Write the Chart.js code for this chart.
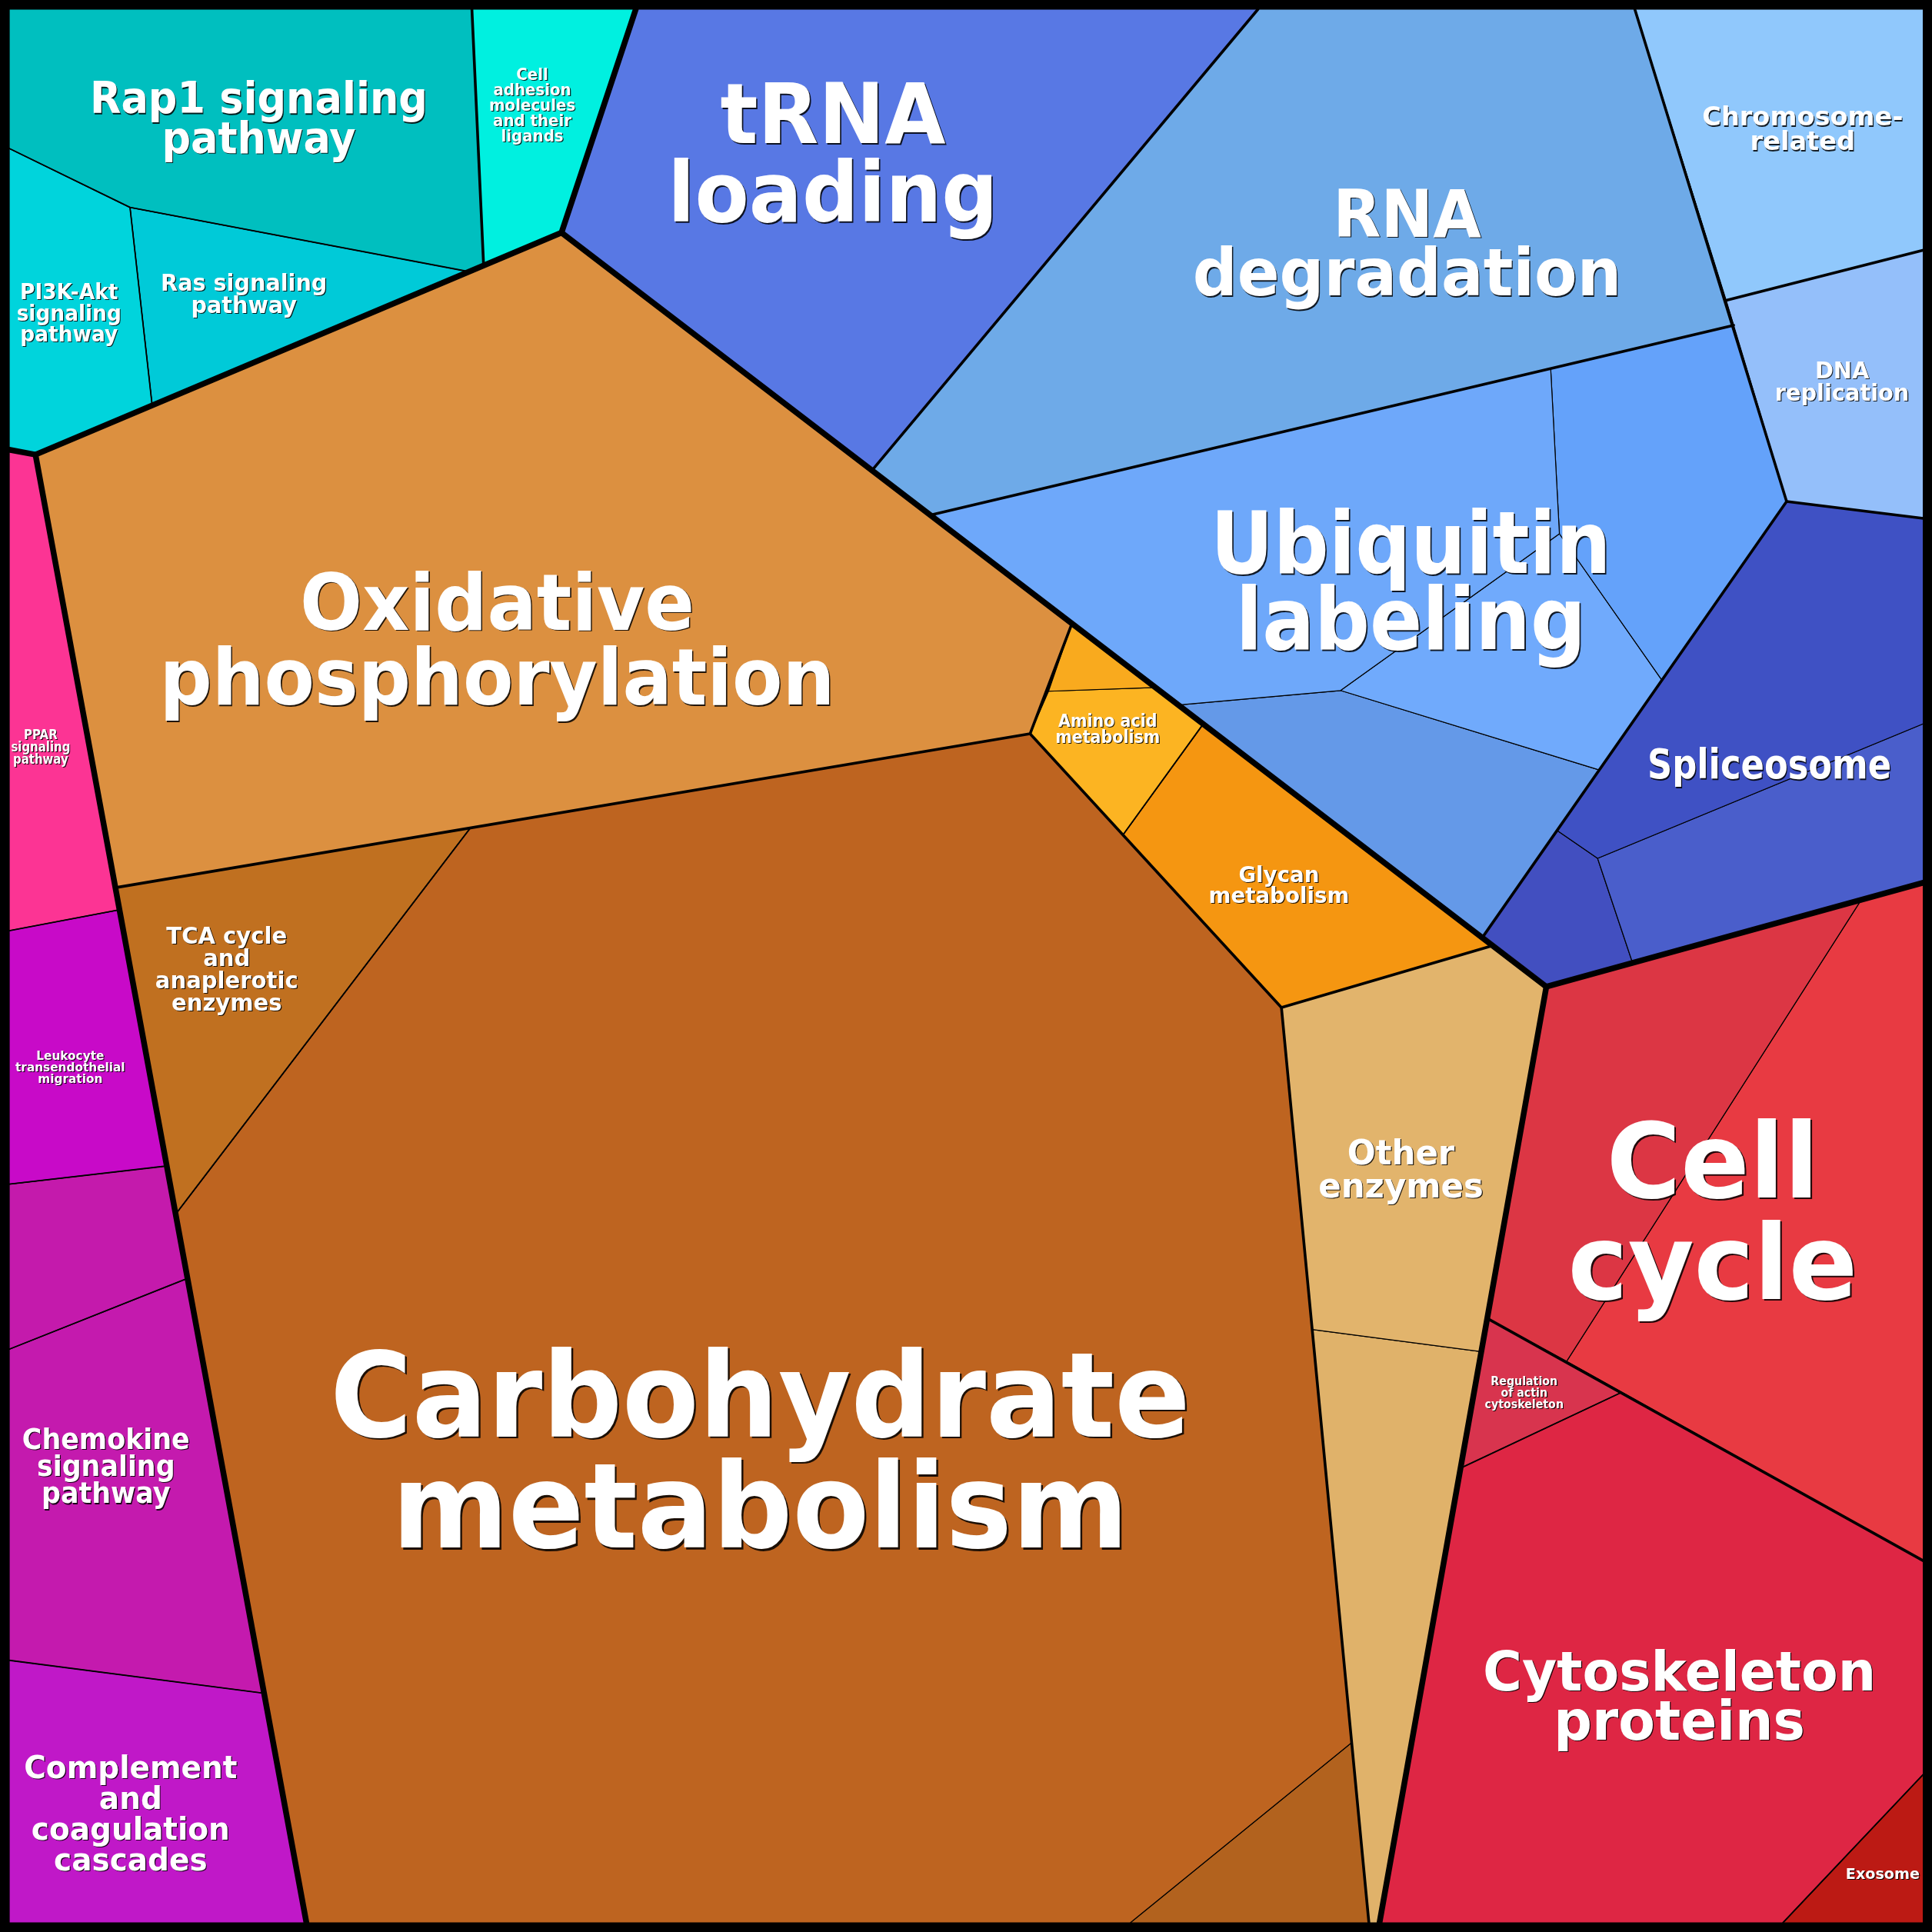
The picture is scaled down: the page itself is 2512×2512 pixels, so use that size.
<!DOCTYPE html>
<html>
<head>
<meta charset="utf-8">
<style>
html,body{margin:0;padding:0;background:#000;}
#wrap{width:2512px;height:2512px;}
canvas{display:block;}
</style>
<script src="https://cdn.jsdelivr.net/npm/chart.js@4.4.1/dist/chart.umd.min.js"></script>
</head>
<body>
<div id="wrap"><canvas id="c" width="2512" height="2512"></canvas></div>
<script>
// ---- treemap coordinate span (data units) ----
const SPAN = 1568;

// ---- cells (Voronoi treemap) ----
const cellNames = [
  "Rap1 signaling pathway", "Cell adhesion molecules and their ligands", "PI3K-Akt signaling pathway", "Ras signaling pathway",
  "tRNA loading", "RNA degradation", "Chromosome-related", "DNA replication",
  "Ubiquitin labeling", "Ubiquitin labeling (2)", "Ubiquitin labeling (3)", "Ubiquitin labeling (4)",
  "Spliceosome", "Spliceosome (2)", "Spliceosome (3)",
  "Oxidative phosphorylation", "TCA cycle and anaplerotic enzymes", "Carbohydrate metabolism", "Carbohydrate metabolism (2)",
  "Amino acid metabolism (2)", "Amino acid metabolism", "Glycan metabolism", "Other enzymes", "Other enzymes (2)",
  "PPAR signaling pathway", "Leukocyte transendothelial migration", "Signaling (other)", "Chemokine signaling pathway", "Complement and coagulation cascades",
  "Cell cycle (2)", "Cell cycle", "Regulation of actin cytoskeleton", "Cytoskeleton proteins", "Exosome"
];

const cellPolygons = [
  [[7.5,7.5],[383,7.5],[392.5,215.5],[380.7,220.5],[105.5,168.3],[7.5,120.5]],
  [[383,7.5],[516,7.5],[455.7,188.8],[392.5,215.5]],
  [[7.5,120.5],[105.5,168.3],[123.5,329],[28.8,369],[7.5,365]],
  [[105.5,168.3],[380.7,220.5],[123.5,329]],
  [[516,7.5],[1021,7.5],[707.7,381.8],[455.7,188.8]],
  [[1021,7.5],[1326.8,7.5],[1407,264],[755,418],[707.7,381.8]],
  [[1326.8,7.5],[1561,7.5],[1561,203],[1401,243.8]],
  [[1401,243.8],[1561,203],[1561,420.7],[1450,407]],
  [[755,418],[1258.5,299],[1265.6,433.2],[1088,560.4],[956.3,572.1]],
  [[1258.5,299],[1407,264],[1450,407],[1348.8,552],[1265.6,433.2]],
  [[1265.6,433.2],[1348.8,552],[1298,624.9],[1088,560.4]],
  [[956.3,572.1],[1088,560.4],[1298,624.9],[1203,761]],
  [[1450,407],[1561,420.7],[1561,587.4],[1296.6,696.6],[1263.7,674]],
  [[1296.6,696.6],[1561,587.4],[1561,716.3],[1325,781.5]],
  [[1263.7,674],[1296.6,696.6],[1325,781.5],[1255,800.8],[1203,761]],
  [[28.8,369],[455.7,188.8],[870,506],[836,595.5],[93.7,720.4]],
  [[93.7,720.4],[381.8,671.9],[142.6,985.4]],
  [[381.8,671.9],[836,595.5],[911.4,677.6],[1040,817.7],[1097,1414.3],[917.3,1560.5],[248.7,1560.5],[142.6,985.4]],
  [[917.3,1560.5],[1097,1414.3],[1111,1560.5]],
  [[870,506],[938,558],[851,561]],
  [[851,561],[938,558],[976.5,587.6],[911.4,677.6],[836,595.5]],
  [[976.5,587.6],[1211.4,767.4],[1040,817.7],[911.4,677.6]],
  [[1040,817.7],[1211.4,767.4],[1255,800.8],[1202,1097],[1065,1079]],
  [[1065,1079],[1202,1097],[1119.6,1560.5],[1111,1560.5]],
  [[7.5,365],[28.8,369],[97,738.3],[7.5,755.3]],
  [[7.5,755.3],[97,738.3],[135.4,946.3],[7.5,961]],
  [[7.5,961],[135.4,946.3],[152.2,1037.5],[7.5,1095]],
  [[7.5,1095],[152.2,1037.5],[214.4,1374.2],[7.5,1347.5]],
  [[7.5,1347.5],[214.4,1374.2],[248.7,1560.5],[7.5,1560.5]],
  [[1255,800.8],[1510.6,730.2],[1271.5,1104.8],[1207,1070]],
  [[1510.6,730.2],[1561,716.3],[1561,1266.7],[1271.5,1104.8]],
  [[1207,1070],[1315.5,1130.3],[1185.4,1191.5]],
  [[1185.4,1191.5],[1315.5,1130.3],[1561,1266.7],[1561,1440],[1447,1560.5],[1119.6,1560.5]],
  [[1447,1560.5],[1561,1440],[1561,1560.5]]
];

const cellColors = [
  "#00bfbf", "#00f0e0", "#00d4dc", "#00cad8",
  "#5878e4", "#6eaae8", "#90c8fc", "#94bffa",
  "#6ea8fa", "#64a2fa", "#70aafc", "#6499e8",
  "#3f51c4", "#4a5ecb", "#424fc0",
  "#dc9040", "#c07020", "#be6420", "#b2621e",
  "#f9aa1e", "#fcb422", "#f59611", "#e2b46c", "#e0b26a",
  "#fc3494", "#c80ac8", "#c41aac", "#c41aae", "#c018c8",
  "#dc3644", "#e83a42", "#d8344e", "#de2644", "#bc1a14"
];

// ---- group borders (polylines through cell vertices) ----
const thickBorders = [
  [[7.5,365],[28.8,369],[455.7,188.8],[516,7.5]],
  [[28.8,369],[248.7,1560.5]],
  [[455.7,188.8],[1255,800.8],[1561,716.3]],
  [[1255,800.8],[1119.6,1560.5]]
];
const mediumBorders = [
  [[707.7,381.8],[1021,7.5]],
  [[755,418],[1407,264]],
  [[1326.8,7.5],[1450,407],[1203,761]],
  [[1450,407],[1561,420.7]],
  [[1401,243.8],[1561,203]],
  [[93.7,720.4],[836,595.5],[870,506]],
  [[836,595.5],[1040,817.7],[1211.4,767.4]],
  [[1040,817.7],[1111,1560.5]],
  [[1207,1070],[1561,1266.7]],
  [[383,7.5],[392.5,215.5]]
];
const lightBorders = [
  [[381.8,671.9],[142.6,985.4]],
  [[976.5,587.6],[911.4,677.6]],
  [[1315.5,1130.3],[1185.4,1191.5]],
  [[1447,1560.5],[1561,1440]],
  [[7.5,120.5],[105.5,168.3],[380.7,220.5]],
  [[105.5,168.3],[123.5,329]],
  [[7.5,755.3],[97,738.3]],
  [[7.5,961],[135.4,946.3]],
  [[7.5,1095],[152.2,1037.5]],
  [[7.5,1347.5],[214.4,1374.2]]
];
const frameOutline = [[3.75,3.75],[1564.25,3.75],[1564.25,1564.25],[3.75,1564.25]];

// ---- labels ----
const labelTexts = [
  ["Carbohydrate","metabolism"],
  ["Oxidative","phosphorylation"],
  ["tRNA","loading"],
  ["RNA","degradation"],
  ["Ubiquitin","labeling"],
  ["Cell","cycle"],
  ["Cytoskeleton","proteins"],
  ["Spliceosome"],
  ["Rap1 signaling","pathway"],
  ["Cell","adhesion","molecules","and their","ligands"],
  ["PI3K-Akt","signaling","pathway"],
  ["Ras signaling","pathway"],
  ["Chromosome-","related"],
  ["DNA","replication"],
  ["Other","enzymes"],
  ["Glycan","metabolism"],
  ["Amino acid","metabolism"],
  ["TCA cycle","and","anaplerotic","enzymes"],
  ["PPAR","signaling","pathway"],
  ["Leukocyte","transendothelial","migration"],
  ["Chemokine","signaling","pathway"],
  ["Complement","and","coagulation","cascades"],
  ["Regulation","of actin","cytoskeleton"],
  ["Exosome"]
];
// [center x, first baseline y]
const labelAnchors = [
  [617,1166],[403.5,511],[676,116],[1142,192],[1145,465],[1390,972],[1363,1372],[1436,632],
  [210,92],[432,65],[56,243],[198,236],[1463,102],[1495,307],[1137,945],[1038,716],[899,590],
  [184,766],[33,600],[57,860],[86,1176],[106,1443],[1237,1124],[1528,1525]
];
// [font size, line step, widest line width]
const labelSizes = [
  [96,90,698],[63,61,548],[68,64,268],[53,48,348],[70,62,325],[85,82,235],[44,40,319],[33,0,198],
  [36,32,274],[13.5,12.5,70],[18,17,85],[19,18,135],[21,20,163],[19,18,109],[28,27,134],[18,17,114],[14,13,85],
  [19,18,116],[11,10,48],[10,9.5,89],[23,22,136],[26,25,173],[10,9.5,64],[12,0,60]
];

// ---- build datasets ----
const toPts = (poly, close) => (close ? [...poly, poly[0]] : poly).map(([x, y]) => ({x, y}));
const datasets = [];
cellPolygons.forEach((poly, i) => {
  datasets.push({
    label: cellNames[i], data: toPts(poly, true), showLine: true, fill: 'shape',
    backgroundColor: cellColors[i], borderColor: '#000', borderWidth: 1.2,
    pointRadius: 0, pointHoverRadius: 0, tension: 0, order: 10, clip: false,
    borderJoinStyle: 'round'
  });
});
const addLines = (arr, w, ord) => arr.forEach(line => datasets.push({
  data: toPts(line, false), showLine: true, fill: false, borderColor: '#000', borderWidth: w,
  pointRadius: 0, pointHoverRadius: 0, tension: 0, order: ord, clip: false,
  borderCapStyle: 'round', borderJoinStyle: 'round'
}));
addLines(lightBorders, 1.8, 4);
addLines(mediumBorders, 3.6, 3);
addLines(thickBorders, 7.5, 2);
datasets.push({
  data: toPts(frameOutline, true), showLine: true, fill: false, borderColor: '#000', borderWidth: 12,
  pointRadius: 0, tension: 0, order: 1, clip: false, borderJoinStyle: 'miter'
});

const labelPlugin = {
  id: 'cellLabels',
  afterDatasetsDraw(chart) {
    const {ctx} = chart;
    const x = chart.scales.x, y = chart.scales.y;
    const k = Math.abs(x.getPixelForValue(SPAN) - x.getPixelForValue(0)) / SPAN;
    labelTexts.forEach((lines, i) => {
      const [cx, by] = labelAnchors[i];
      const [fs, lh, w] = labelSizes[i];
      const fpx = fs * k;
      ctx.save();
      ctx.font = 'bold ' + fpx + 'px "DejaVu Sans"';
      ctx.textAlign = 'center';
      ctx.textBaseline = 'alphabetic';
      const mw = Math.max(...lines.map(l => ctx.measureText(l).width));
      const sx = (w * k) / mw;
      const px = x.getPixelForValue(cx);
      const d = Math.max(1.2, fpx * 0.016);
      lines.forEach((line, j) => {
        const py = y.getPixelForValue(by + j * lh);
        ctx.save();
        ctx.translate(px, py);
        ctx.scale(sx, 1);
        ctx.fillStyle = 'rgba(0,0,0,0.85)';
        ctx.fillText(line, d / sx, d);
        ctx.fillStyle = '#ffffff';
        ctx.fillText(line, 0, 0);
        ctx.restore();
      });
      ctx.restore();
    });
  }
};

new Chart(document.getElementById('c'), {
  type: 'scatter',
  data: {datasets},
  options: {
    responsive: false,
    devicePixelRatio: 1,
    animation: false,
    events: [],
    layout: {padding: 0},
    plugins: {legend: {display: false}, tooltip: {enabled: false}},
    scales: {
      x: {type: 'linear', min: 0, max: SPAN, display: false},
      y: {type: 'linear', min: 0, max: SPAN, reverse: true, display: false}
    }
  },
  plugins: [labelPlugin]
});
</script>
</body>
</html>
